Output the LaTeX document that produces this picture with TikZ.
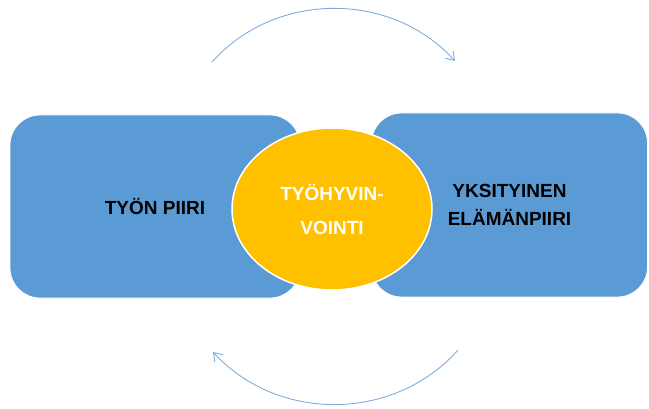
\documentclass[tikz,border=0pt]{standalone}
\usepackage{fontspec}
\setmainfont{Liberation Sans}
\usetikzlibrary{shapes.geometric,arrows.meta}
\definecolor{boxblue}{HTML}{5B9BD5}
\definecolor{ballyellow}{HTML}{FFC000}
\definecolor{arcblue}{HTML}{7FACDC}
\begin{document}
\begin{tikzpicture}[
		x=1pt, y=1pt,
		piiri/.style={rectangle, rounded corners=30pt, fill=boxblue, draw=white,
				line width=0.8pt, align=center, text=black,
				font=\bfseries\fontsize{19}{28}\selectfont},
		pallo/.style={ellipse, fill=ballyellow, draw=white, line width=1.5pt,
				inner sep=0pt, minimum width=200pt, minimum height=162pt,
				align=center, text=white,
				font=\bfseries\fontsize{19}{34}\selectfont},
		kierto/.style={draw=arcblue, line width=0.9pt,
				-{Straight Barb[length=8pt,width=11pt]}}
	]
	\useasboundingbox (0,0) rectangle (649,408);
	\node[piiri, minimum width=290pt, minimum height=183pt] (tyo) at (155,201.5) {TYÖN PIIRI};
	\node[piiri, minimum width=276pt, minimum height=184pt] (koti) at (509.5,203) {YKSITYINEN\\ELÄMÄNPIIRI};
	\node[pallo] (hyvin) at (332,199) {TYÖHYVIN-\\VOINTI};
	\coordinate (y1) at (212,346);
	\coordinate (y2) at (455,347);
	\coordinate (a1) at (458,58);
	\coordinate (a2) at (213,56);
	\draw[kierto] (y1) to[bend left=48] (y2);
	\draw[kierto] (a1) to[bend left=48] (a2);
\end{tikzpicture}
\end{document}
